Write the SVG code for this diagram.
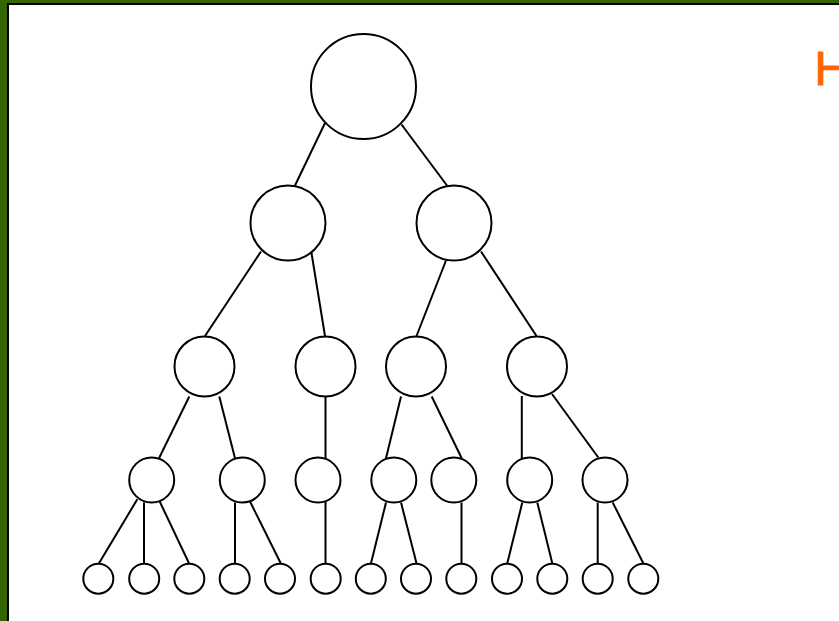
<svg xmlns="http://www.w3.org/2000/svg" width="839" height="621" viewBox="0 0 839 621">
  <style>
    .node { fill: #ffffff; stroke: #000000; stroke-width: 2; }
    .edge { stroke: #000000; stroke-width: 2; fill: none; }
    .title { font-family: "Liberation Sans", Arial, sans-serif; font-size: 49px; fill: #ff6600; stroke: #ff6600; stroke-width: 1; }
  </style>

  <!-- frame: green band, thin black rule, white page -->
  <rect x="0" y="0" width="839" height="621" fill="#336600"/>
  <rect x="7" y="3" width="840" height="630" fill="#000000"/>
  <rect x="9" y="5" width="840" height="630" fill="#ffffff"/>

  <text class="title" x="814.3" y="84.5">H</text>

  <g id="edges">
    <!-- level 1 to 2 -->
    <line class="edge" x1="325" y1="123" x2="295" y2="185.5"/>
    <line class="edge" x1="401.5" y1="124.5" x2="447" y2="185.5"/>
    <!-- level 2 to 3 -->
    <line class="edge" x1="261" y1="251.5" x2="205" y2="336"/>
    <line class="edge" x1="311.5" y1="253" x2="325" y2="336"/>
    <line class="edge" x1="446" y1="260.5" x2="416.5" y2="336"/>
    <line class="edge" x1="481" y1="251.5" x2="536.5" y2="336"/>
    <!-- level 3 to 4 -->
    <line class="edge" x1="189.3" y1="396.5" x2="159" y2="458.3"/>
    <line class="edge" x1="219.3" y1="396.5" x2="235" y2="458.3"/>
    <line class="edge" x1="325.5" y1="396.8" x2="325.5" y2="459"/>
    <line class="edge" x1="401" y1="396.5" x2="386" y2="458.3"/>
    <line class="edge" x1="431.7" y1="396.5" x2="461.7" y2="458.3"/>
    <line class="edge" x1="521.8" y1="396" x2="521.8" y2="458"/>
    <line class="edge" x1="552" y1="394" x2="598.3" y2="457.5"/>
    <!-- level 4 to 5 -->
    <line class="edge" x1="137.3" y1="499.3" x2="99" y2="563.3"/>
    <line class="edge" x1="144" y1="502.5" x2="144" y2="563.3"/>
    <line class="edge" x1="159" y1="500" x2="189" y2="563.3"/>
    <line class="edge" x1="235" y1="502.5" x2="235" y2="563.3"/>
    <line class="edge" x1="250" y1="501.5" x2="280.7" y2="563.3"/>
    <line class="edge" x1="325.5" y1="501" x2="325.5" y2="563.3"/>
    <line class="edge" x1="386" y1="502.5" x2="371" y2="563.3"/>
    <line class="edge" x1="401" y1="502.5" x2="416.5" y2="563.3"/>
    <line class="edge" x1="461.5" y1="502.5" x2="461.5" y2="563.3"/>
    <line class="edge" x1="522.3" y1="502.5" x2="507.3" y2="563.3"/>
    <line class="edge" x1="537.3" y1="502.5" x2="552.3" y2="563.3"/>
    <line class="edge" x1="597.7" y1="502.5" x2="597.7" y2="563.3"/>
    <line class="edge" x1="612.7" y1="502.5" x2="643.3" y2="563.3"/>
  </g>

  <!-- level 1 -->
  <g id="n0"><circle class="node" cx="363.5" cy="86.5" r="52.5"/></g>
  <!-- level 2 -->
  <g id="n1"><circle class="node" cx="288" cy="223" r="37.5"/></g>
  <g id="n2"><circle class="node" cx="454" cy="223" r="37.5"/></g>
  <!-- level 3 -->
  <g id="n3"><circle class="node" cx="204.5" cy="366.5" r="30"/></g>
  <g id="n4"><circle class="node" cx="325.5" cy="366.5" r="30"/></g>
  <g id="n5"><circle class="node" cx="416" cy="366.5" r="30"/></g>
  <g id="n6"><circle class="node" cx="537" cy="366.5" r="30"/></g>
  <!-- level 4 -->
  <g id="n7"><circle class="node" cx="151.7" cy="480" r="22.5"/></g>
  <g id="n8"><circle class="node" cx="242.3" cy="480" r="22.5"/></g>
  <g id="n9"><circle class="node" cx="318" cy="480" r="22.5"/></g>
  <g id="n10"><circle class="node" cx="393.8" cy="480" r="22.5"/></g>
  <g id="n11"><circle class="node" cx="453.8" cy="480" r="22.5"/></g>
  <g id="n12"><circle class="node" cx="529.7" cy="480" r="22.5"/></g>
  <g id="n13"><circle class="node" cx="605" cy="480" r="22.5"/></g>
  <!-- level 5 -->
  <g id="n14"><circle class="node" cx="98.3" cy="578.7" r="15"/></g>
  <g id="n15"><circle class="node" cx="144.2" cy="578.7" r="15"/></g>
  <g id="n16"><circle class="node" cx="189.3" cy="578.7" r="15"/></g>
  <g id="n17"><circle class="node" cx="234.7" cy="578.7" r="15"/></g>
  <g id="n18"><circle class="node" cx="280" cy="578.7" r="15"/></g>
  <g id="n19"><circle class="node" cx="325.7" cy="578.7" r="15"/></g>
  <g id="n20"><circle class="node" cx="370.8" cy="578.7" r="15"/></g>
  <g id="n21"><circle class="node" cx="416" cy="578.7" r="15"/></g>
  <g id="n22"><circle class="node" cx="461.3" cy="578.7" r="15"/></g>
  <g id="n23"><circle class="node" cx="507" cy="578.7" r="15"/></g>
  <g id="n24"><circle class="node" cx="552.3" cy="578.7" r="15"/></g>
  <g id="n25"><circle class="node" cx="597.7" cy="578.7" r="15"/></g>
  <g id="n26"><circle class="node" cx="643.3" cy="578.7" r="15"/></g>
</svg>
